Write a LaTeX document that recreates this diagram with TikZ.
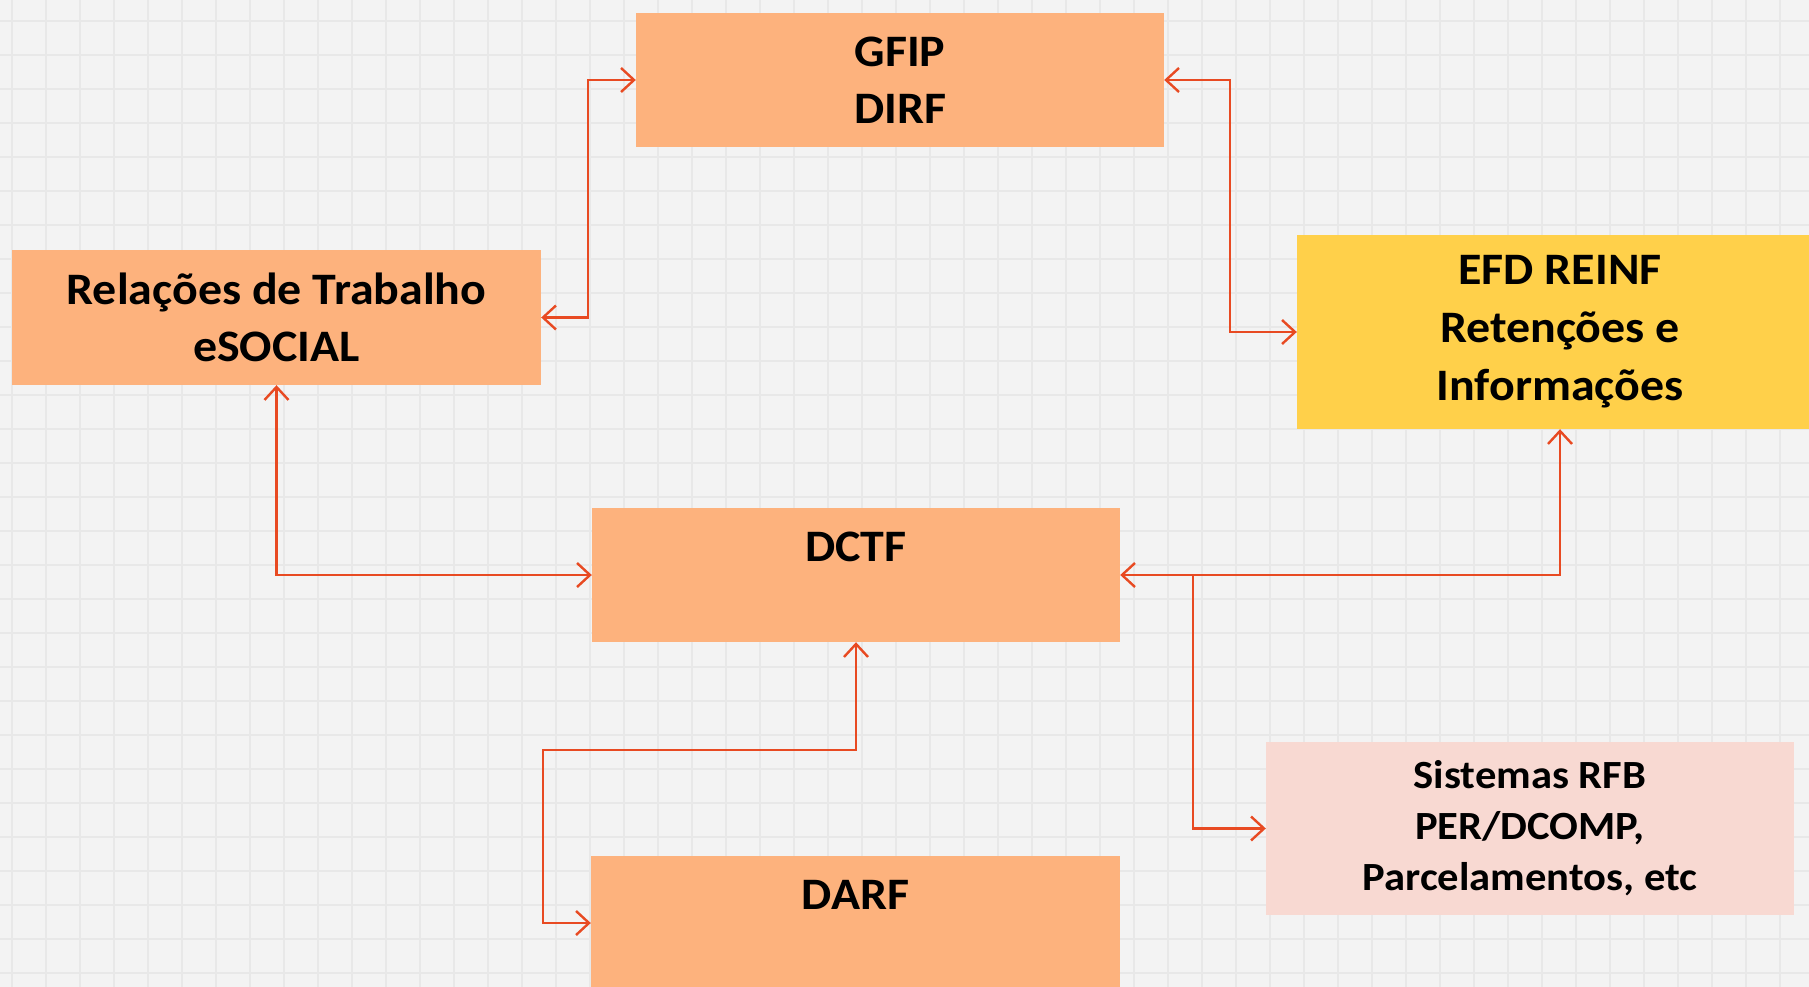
\documentclass[tikz,border=0pt]{standalone}
\usepackage{fontspec}
\setmainfont{Carlito}[FakeStretch=1.065]
\usetikzlibrary{arrows.meta,calc}
\definecolor{bgc}{HTML}{F3F3F3}
\definecolor{gridc}{HTML}{E8E8E8}
\definecolor{boxorange}{HTML}{FDB27D}
\definecolor{boxyellow}{HTML}{FFD04A}
\definecolor{boxpink}{HTML}{F8D9D2}
\definecolor{linkc}{HTML}{E84A22}
\tikzset{
  box/.style={rectangle, inner sep=0pt, align=center, font=\bfseries\fontsize{45}{57}\selectfont, text=black},
  link/.style={draw=linkc, line width=2.4pt, arrows={Straight Barb[length=13pt,width=24pt,line width=2.4pt]-Straight Barb[length=13pt,width=24pt,line width=2.4pt]}},
  onelink/.style={draw=linkc, line width=2.4pt, arrows={-Straight Barb[length=13pt,width=24pt,line width=2.4pt]}}
}
\begin{document}
\begin{tikzpicture}[x=1pt,y=-1pt]
\useasboundingbox (0,0) rectangle (1809,987);
\fill[bgc] (0,0) rectangle (1809,987);
\foreach \i in {0,...,53} {\draw[gridc, line width=2pt] (12+34*\i,0) -- (12+34*\i,987);}
\foreach \j in {0,...,28} {\draw[gridc, line width=2pt] (0,21+34*\j) -- (1809,21+34*\j);}

\node[box, fill=boxorange, minimum width=528pt, minimum height=134pt] (gfip) at (900,80) {GFIP\\DIRF};
\node[box, fill=boxorange, minimum width=529pt, minimum height=135pt] (rel) at (276.5,317.5) {Relações de Trabalho\\eSOCIAL};
\node[box, fill=boxyellow, minimum width=526pt, minimum height=194pt, font=\bfseries\fontsize{45}{58}\selectfont] (efd) at (1560,332) {\raisebox{-4pt}{EFD REINF}\\\raisebox{-4pt}{Retenções e}\\\raisebox{-4pt}{Informações}};
\node[box, fill=boxorange, minimum width=528pt, minimum height=134pt] (dctf) at (856,575) {DCTF\\\phantom{D}};
\node[box, fill=boxorange, minimum width=529pt, minimum height=134pt] (darf) at (855.5,923) {DARF\\\phantom{D}};
\node[box, fill=boxpink, minimum width=528pt, minimum height=173pt, font=\bfseries\fontsize{40}{51}\selectfont] (sis) at (1530,828.5) {Sistemas RFB\\PER/DCOMP,\\Parcelamentos, etc};

\coordinate (j) at ($(dctf.east)+(73,0)$);
\draw[link] (rel.east) -- ++(47,0) |- (gfip.west);
\draw[link] (gfip.east) -- ++(66,0) |- (efd.west);
\draw[link] (rel.south) |- (dctf.west);
\draw[link] (efd.south) |- (dctf.east);
\draw[onelink] (j) |- (sis.west);
\draw[link] (darf.west) -- ++(-48,0) |- ($(dctf.south)+(0,108)$) -- (dctf.south);
\end{tikzpicture}
\end{document}
